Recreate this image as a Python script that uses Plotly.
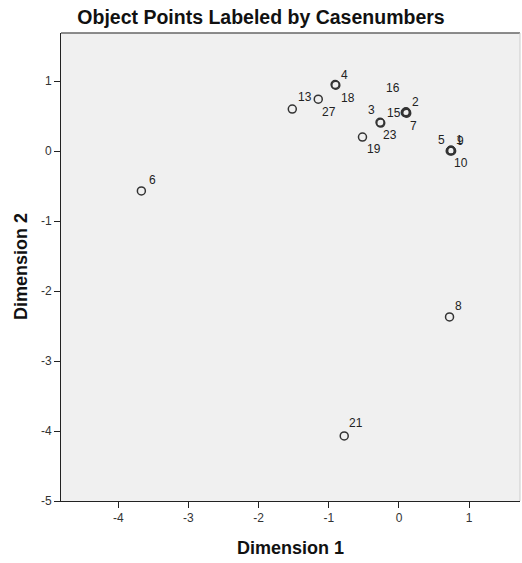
import plotly.graph_objects as go

# ---- data ----
case_numbers = [13, 27, 4, 18, 3, 23, 2, 7, 15, 16, 19, 5, 9, 1, 10, 6, 8, 21]
dimension_1 = [-1.52, -1.15, -0.91, -0.90, -0.26, -0.27, 0.10, 0.11, 0.09, 0.10,
               -0.52, 0.74, 0.75, 0.74, 0.73, -3.67, 0.72, -0.78]
dimension_2 = [0.60, 0.74, 0.95, 0.94, 0.40, 0.41, 0.55, 0.54, 0.55, 0.56,
               0.20, 0.01, 0.00, 0.01, 0.00, -0.57, -2.37, -4.07]
x_ticks = [-4, -3, -2, -1, 0, 1]
x_tick_labels = ["-4", "-3", "-2", "-1", "0", "1"]
y_ticks = [-5, -4, -3, -2, -1, 0, 1]
y_tick_labels = ["-5", "-4", "-3", "-2", "-1", "0", "1"]

# ---- label placement style (pixel offsets from the point, +dy = down) ----
label_dx = [12.7, 10.7, 9.3, 11.7, -9, 10, 9.7, 6.3, -11, -12.7, 11.7, -9, 8.7, 8.7, 10.3, 10.7, 9.3, 11.7]
label_dy = [-11.7, 12.7, -9.3, 13, -13.3, 12.7, -10.6, 12.7, 0, -24, 12, -10.7, -10, -10, 12, -11, -11, -13]

FONT = "Liberation Sans, Arial, sans-serif"

fig = go.Figure()
fig.add_trace(go.Scatter(
    x=dimension_1, y=dimension_2, mode="markers",
    marker=dict(symbol="circle-open", size=8, color="#333333", line=dict(width=1.5, color="#333333")),
    hoverinfo="text", text=[str(c) for c in case_numbers], showlegend=False,
))

annotations = []
for c, xv, yv, dx, dy in zip(case_numbers, dimension_1, dimension_2, label_dx, label_dy):
    annotations.append(dict(
        x=xv, y=yv, xref="x", yref="y", text=str(c), showarrow=False,
        xanchor="center", yanchor="middle", xshift=dx, yshift=-dy,
        font=dict(family=FONT, size=12, color="#222222"),
    ))

annotations.append(dict(
    x=0.5, y=-0.1004, xref="paper", yref="paper", text="<b>Dimension 1</b>",
    showarrow=False, xanchor="center", yanchor="middle",
    font=dict(family=FONT, size=18, color="#111111"),
))
annotations.append(dict(
    x=-0.0871, y=0.5, xref="paper", yref="paper", text="<b>Dimension 2</b>",
    showarrow=False, xanchor="center", yanchor="middle", textangle=-90,
    font=dict(family=FONT, size=18, color="#111111"),
))

fig.update_layout(
    width=522, height=563,
    margin=dict(l=61, r=2, t=33, b=62),
    paper_bgcolor="white", plot_bgcolor="#f0f0f0",
    title=dict(text="<b>Object Points Labeled by Casenumbers</b>",
               x=0.5, xref="container", xanchor="center",
               y=1 - 17 / 563, yref="container", yanchor="middle",
               font=dict(family=FONT, size=19.5, color="#111111")),
    xaxis=dict(range=[-4.815, 1.724], tickvals=x_ticks, ticktext=x_tick_labels,
               ticks="outside", ticklen=6,
               tickcolor="#222222", showgrid=False, zeroline=False, showline=True,
               linecolor="#222222", linewidth=1,
               tickfont=dict(family=FONT, size=12, color="#333333")),
    yaxis=dict(range=[-5, 1.686], tickvals=y_ticks, ticktext=y_tick_labels,
               ticks="outside", ticklen=6,
               tickcolor="#222222", showgrid=False, zeroline=False, showline=True,
               linecolor="#222222", linewidth=1,
               tickfont=dict(family=FONT, size=12, color="#333333")),
    annotations=annotations,
    shapes=[
        dict(type="line", xref="paper", yref="paper", x0=0, x1=1, y0=1, y1=1,
             line=dict(color="#666666", width=1.5)),
        dict(type="line", xref="paper", yref="paper", x0=1, x1=1, y0=0, y1=1,
             line=dict(color="#cccccc", width=1)),
    ],
)

fig.write_html("out.html")
